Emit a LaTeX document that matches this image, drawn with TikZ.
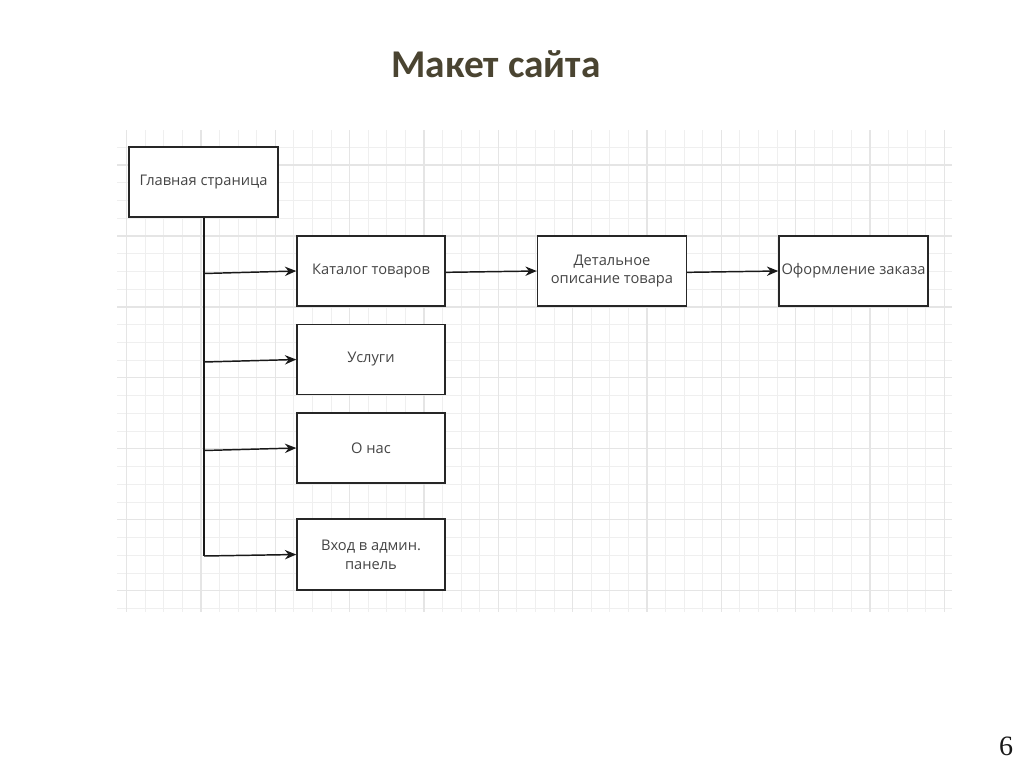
\documentclass[tikz,border=0pt]{standalone}
\usepackage{fontspec}
\setmainfont{Open Sans}
\newfontfamily\titlefont{Carlito}
\newfontfamily\numfont{Liberation Serif}
\usetikzlibrary{arrows.meta}
\definecolor{titlecol}{HTML}{4A4431}
\definecolor{gridminor}{HTML}{EFEFEF}
\definecolor{gridmajor}{HTML}{E5E5E5}
\definecolor{boxtext}{HTML}{454545}
\tikzset{
  box/.style={draw=black!85, line width=1.1pt, fill=white, minimum width=111pt,
    minimum height=52.5pt, inner sep=1pt, align=center, text=boxtext,
    font=\fontsize{11}{14}\selectfont},
  link/.style={draw=black!90, line width=1.1pt, -{Stealth[length=8.5pt,width=7pt]}},
  trunk/.style={draw=black!90, line width=1.1pt},
  gminor/.style={draw=gridminor, line width=0.7pt},
  gmajor/.style={draw=gridmajor, line width=0.9pt}
}
\begin{document}
\begin{tikzpicture}[x=0.75pt,y=-0.75pt]
\useasboundingbox[fill=white] (0,0) rectangle (1024,767);
% grid
\begin{scope}
\clip (117,130) rectangle (952,612);
\foreach \k in {-2,...,26} {
  \pgfmathsetmacro\yy{165+17.74*\k}
  \draw[gminor] (117,\yy) -- (952,\yy);
}
\foreach \k in {-1,...,45} {
  \pgfmathsetmacro\xx{126.7+18.58*\k}
  \draw[gminor] (\xx,130) -- (\xx,612);
}
\foreach \k in {0,4,...,24} {
  \pgfmathsetmacro\yy{165+17.74*\k}
  \draw[gmajor] (117,\yy) -- (952,\yy);
}
\foreach \k in {0,4,...,44} {
  \pgfmathsetmacro\xx{126.7+18.58*\k}
  \draw[gmajor] (\xx,130) -- (\xx,612);
}
\end{scope}
% title
\node[anchor=base, text=titlecol, font=\titlefont\bfseries\fontsize{29.5}{34}\selectfont] (title) at (496,78) {Макет сайта};
% page number
\node[anchor=base, font=\numfont\fontsize{21}{24}\selectfont, text=black!90] (pnum) at (1006,755) {6};
% boxes
\node[box, minimum width=111.75pt] (main) at (203.5,182) {Главная страница};
\node[box] (cat) at (371,271) {Каталог товаров};
\node[box] (serv) at (371,359.5) {Услуги};
\node[box] (about) at (371,448) {О нас};
\node[box, minimum height=53.25pt] (admin) at (371,554.5) {Вход в админ.\\панель};
\node[box, minimum width=111.75pt] (detail) at (612,271) {Детальное\\описание товара};
\node[box, minimum width=111.75pt, inner sep=0pt] (order) at (853.5,271) {Оформление заказа};
% trunk
\coordinate (t1) at (204,273.5);
\coordinate (t2) at (204,362);
\coordinate (t3) at (204,450.5);
\coordinate (t4) at (204,556);
\draw[trunk] (main.south -| t4) -- (t4);
\draw[link] (t1) -- (cat.west);
\draw[link] (t2) -- (serv.west);
\draw[link] (t3) -- (about.west);
\draw[link] (t4) -- (admin.west);
\draw[link] ([yshift=-1pt]cat.east) -- (detail.west);
\draw[link] ([yshift=-1pt]detail.east) -- (order.west);
\end{tikzpicture}
\end{document}
